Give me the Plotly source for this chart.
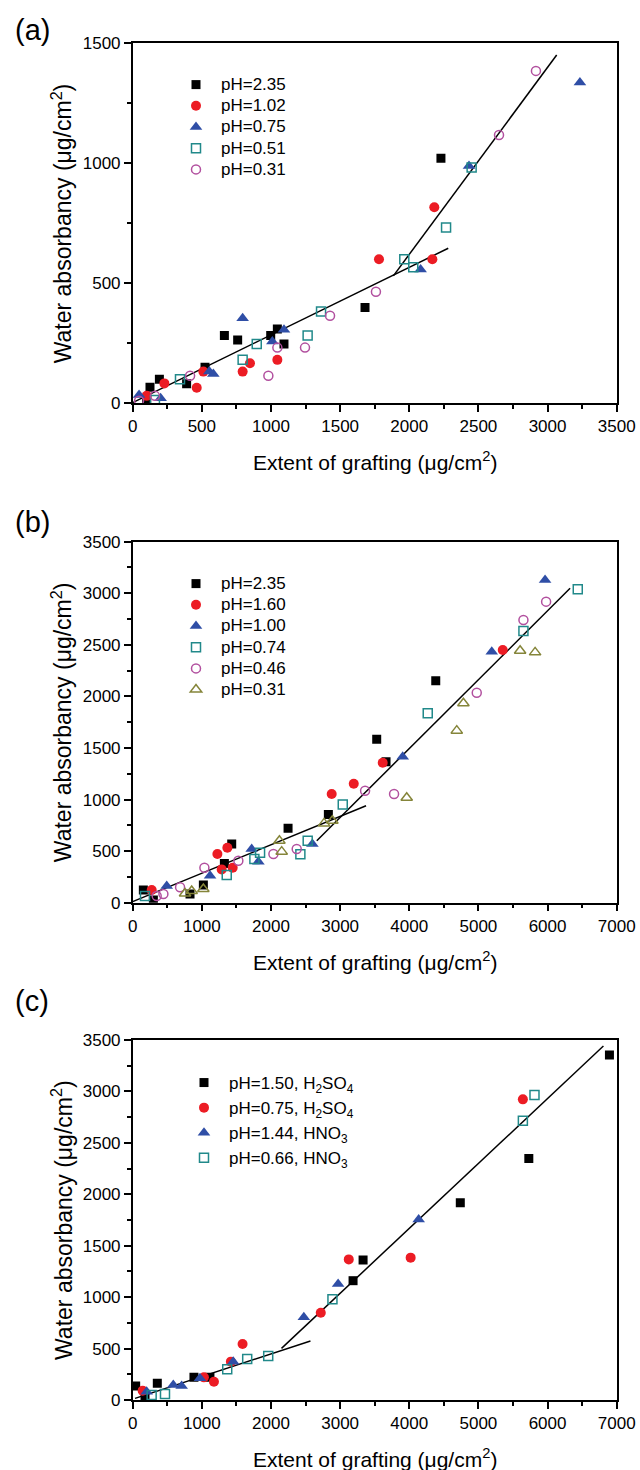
import plotly.graph_objects as go

# ---------------- Panel (a) data ----------------
a_names = ["pH=2.35", "pH=1.02", "pH=0.75", "pH=0.51", "pH=0.31"]
a_x_235 = [101, 125, 193, 390, 523, 663, 759, 998, 1046, 1094, 1680, 2229]
a_y_235 = [11, 67, 100, 81, 150, 282, 264, 282, 310, 247, 399, 1021]
a_x_102 = [101, 229, 463, 511, 795, 848, 1046, 1781, 2167, 2181]
a_y_102 = [31, 83, 65, 132, 132, 167, 181, 600, 600, 817]
a_x_075 = [46, 202, 554, 583, 795, 1010, 1094, 2082, 2432, 3234]
a_y_075 = [35, 21, 132, 122, 354, 257, 306, 558, 989, 1337]
a_x_051 = [161, 342, 795, 897, 1265, 1362, 1964, 2029, 2266, 2451]
a_y_051 = [14, 100, 181, 247, 282, 382, 600, 567, 732, 983]
a_x_031 = [46, 161, 415, 981, 1046, 1246, 1427, 1759, 2649, 2916]
a_y_031 = [11, 31, 115, 115, 232, 232, 365, 465, 1118, 1385]
a_fit1_x = [0, 2282]
a_fit1_y = [3, 646]
a_fit2_x = [1885, 3066]
a_fit2_y = [531, 1451]

# ---------------- Panel (b) data ----------------
b_names = ["pH=2.35", "pH=1.60", "pH=1.00", "pH=0.74", "pH=0.46", "pH=0.31"]
b_x_235 = [154, 299, 829, 1022, 1326, 1432, 2247, 2830, 3529, 3664, 4383]
b_y_235 = [123, 26, 84, 171, 381, 569, 721, 856, 1584, 1367, 2153]
b_x_160 = [275, 1225, 1287, 1369, 1446, 2878, 3197, 3616, 5352]
b_y_160 = [123, 472, 323, 533, 339, 1054, 1154, 1357, 2450]
b_x_100 = [492, 1119, 1721, 1818, 2599, 3905, 5193, 5964]
b_y_100 = [162, 262, 520, 398, 569, 1416, 2434, 3129]
b_x_074 = [178, 1360, 1760, 1842, 2425, 2531, 3038, 4267, 5651, 6437]
b_y_074 = [65, 268, 423, 485, 469, 601, 953, 1836, 2634, 3038]
b_x_046 = [347, 444, 685, 1037, 1528, 2035, 2372, 3361, 3780, 4976, 5651, 5979]
b_y_046 = [65, 84, 149, 339, 407, 472, 520, 1086, 1054, 2036, 2741, 2919]
b_x_031 = [757, 853, 1022, 2122, 2155, 2768, 2888, 3963, 4687, 4783, 5603, 5820]
b_y_031 = [90, 113, 133, 601, 495, 769, 795, 1018, 1668, 1933, 2443, 2427]
b_fit1_x = [0, 3375]
b_fit1_y = [10, 940]
b_fit2_x = [2662, 6326]
b_fit2_y = [601, 3048]

# ---------------- Panel (c) data ----------------
c_names = ["pH=1.50, H<sub>2</sub>SO<sub>4</sub>", "pH=0.75, H<sub>2</sub>SO<sub>4</sub>",
           "pH=1.44, HNO<sub>3</sub>", "pH=0.66, HNO<sub>3</sub>"]
c_x_150 = [43, 178, 356, 886, 1117, 3187, 3332, 4738, 5729, 6895]
c_y_150 = [136, 16, 162, 220, 220, 1160, 1361, 1918, 2349, 3354]
c_x_075 = [144, 1030, 1175, 1420, 1589, 2720, 3125, 4020, 5643]
c_y_075 = [91, 220, 178, 373, 544, 849, 1367, 1384, 2923]
c_x_144 = [202, 587, 708, 973, 1454, 2475, 2971, 4136]
c_y_144 = [81, 146, 136, 211, 373, 804, 1128, 1756]
c_x_066 = [274, 467, 1367, 1656, 1960, 2889, 5643, 5811]
c_y_066 = [49, 58, 298, 399, 428, 979, 2716, 2965]
c_fit1_x = [34, 2571]
c_fit1_y = [16, 574]
c_fit2_x = [2152, 6808]
c_fit2_y = [502, 3441]

# ---------------- Styles ----------------
FONT = "Liberation Sans, Arial, sans-serif"
BLACK = "#000000"
RED = "#ec1c24"
BLUE = "#2f4ea6"
TEAL = "#21898a"
MAGENTA = "#b2509f"
OLIVE = "#85853a"

sty_sq = dict(symbol="square", size=9, color=BLACK)
sty_ci = dict(symbol="circle", size=10, color=RED)
sty_tr = dict(symbol="triangle-up", size=11, color=BLUE)
sty_osq = dict(symbol="square-open", size=9, color=TEAL, line=dict(width=1.5, color=TEAL))
sty_oci = dict(symbol="circle-open", size=9, color=MAGENTA, line=dict(width=1.5, color=MAGENTA))
sty_otr = dict(symbol="triangle-up-open", size=10, color=OLIVE, line=dict(width=1.5, color=OLIVE))

fig = go.Figure()


def add_pts(x, y, name, marker, ax, leg, big=True):
    label = f'<span style="font-size:17px">{name}</span>' if big else name
    fig.add_trace(go.Scatter(x=x, y=y, mode="markers", name=label, marker=marker,
                             xaxis="x" + ax, yaxis="y" + ax, legend=leg, showlegend=True))


def add_line(x, y, ax):
    fig.add_trace(go.Scatter(x=x, y=y, mode="lines", line=dict(color="black", width=1.5),
                             xaxis="x" + ax, yaxis="y" + ax, showlegend=False, hoverinfo="skip"))

# panel a (axis suffix "")
add_line(a_fit1_x, a_fit1_y, "")
add_line(a_fit2_x, a_fit2_y, "")
add_pts(a_x_235, a_y_235, a_names[0], sty_sq, "", "legend")
add_pts(a_x_102, a_y_102, a_names[1], sty_ci, "", "legend")
add_pts(a_x_075, a_y_075, a_names[2], sty_tr, "", "legend")
add_pts(a_x_051, a_y_051, a_names[3], sty_osq, "", "legend")
add_pts(a_x_031, a_y_031, a_names[4], sty_oci, "", "legend")

# panel b
add_line(b_fit1_x, b_fit1_y, "2")
add_line(b_fit2_x, b_fit2_y, "2")
add_pts(b_x_235, b_y_235, b_names[0], sty_sq, "2", "legend2")
add_pts(b_x_160, b_y_160, b_names[1], sty_ci, "2", "legend2")
add_pts(b_x_100, b_y_100, b_names[2], sty_tr, "2", "legend2")
add_pts(b_x_074, b_y_074, b_names[3], sty_osq, "2", "legend2")
add_pts(b_x_046, b_y_046, b_names[4], sty_oci, "2", "legend2")
add_pts(b_x_031, b_y_031, b_names[5], sty_otr, "2", "legend2")

# panel c
add_line(c_fit1_x, c_fit1_y, "3")
add_line(c_fit2_x, c_fit2_y, "3")
add_pts(c_x_150, c_y_150, c_names[0], sty_sq, "3", "legend3", big=False)
add_pts(c_x_075, c_y_075, c_names[1], sty_ci, "3", "legend3", big=False)
add_pts(c_x_144, c_y_144, c_names[2], sty_tr, "3", "legend3", big=False)
add_pts(c_x_066, c_y_066, c_names[3], sty_osq, "3", "legend3", big=False)

W, H = 640, 1470
XL, XR = 132.7, 616.7
xdom = [XL / W, XR / W]
panels = {"": (43.3, 403.3), "2": (541.7, 902.7), "3": (1040.0, 1400.0)}


def ydom(top, bot):
    return [(H - bot) / H, (H - top) / H]


def axis(dom, rng, dtick, minor_dtick, anchor):
    return dict(domain=dom, range=rng, tickmode="linear", tick0=0, dtick=dtick,
                showline=True, linecolor="black", linewidth=1.5, mirror=True,
                ticks="outside", ticklen=7, tickwidth=1.5, tickcolor="black",
                minor=dict(ticks="outside", ticklen=4, tickwidth=1.5, tickcolor="black",
                           dtick=minor_dtick, tick0=0, showgrid=False),
                showgrid=False, zeroline=False, anchor=anchor, automargin=False,
                tickfont=dict(family=FONT, size=17, color="black"))


layout = dict(
    template="none",
    width=W, height=H, margin=dict(l=0, r=0, t=0, b=0, pad=0, autoexpand=False),
    paper_bgcolor="white", plot_bgcolor="white",
    font=dict(family=FONT, color="black"),
    showlegend=True,
)
layout["xaxis"] = axis(xdom, [0, 3500], 500, 250, "y")
layout["yaxis"] = axis(ydom(*panels[""]), [0, 1500], 500, 250, "x")
layout["xaxis2"] = axis(xdom, [0, 7000], 1000, 500, "y2")
layout["yaxis2"] = axis(ydom(*panels["2"]), [0, 3500], 500, 250, "x2")
layout["xaxis3"] = axis(xdom, [0, 7000], 1000, 500, "y3")
layout["yaxis3"] = axis(ydom(*panels["3"]), [0, 3500], 500, 250, "x3")


def leg(left_px, top_px, size):
    return dict(x=left_px / W, y=(H - top_px) / H, xanchor="left", yanchor="top",
                bgcolor="rgba(0,0,0,0)", borderwidth=0, itemwidth=40,
                font=dict(family=FONT, size=size, color="black"),
                tracegroupgap=0)

layout["legend"] = leg(171, 69, 14)
layout["legend2"] = leg(171, 568, 14)
layout["legend3"] = leg(179, 1065, 17)

ann = []
# panel letters
for txt, yc in [("(a)", 30), ("(b)", 522), ("(c)", 1001)]:
    ann.append(dict(text=txt, x=32 / W, y=(H - yc) / H, xref="paper", yref="paper",
                    xanchor="center", yanchor="middle", showarrow=False,
                    font=dict(family=FONT, size=29, color="black")))
ytitle = "Water absorbancy (\u03bcg/cm<sup>2</sup>)"
xtitle = "Extent of grafting (\u03bcg/cm<sup>2</sup>)"
for key, (top, bot) in panels.items():
    ann.append(dict(text=ytitle, x=62 / W, y=(H - (top + bot) / 2) / H, xref="paper", yref="paper",
                    xanchor="center", yanchor="middle", textangle=-90, showarrow=False,
                    font=dict(family=FONT, size=23, color="black")))
    ann.append(dict(text=xtitle, x=(XL + XR) / 2 / W, y=(H - (bot + 58)) / H, xref="paper", yref="paper",
                    xanchor="center", yanchor="middle", showarrow=False,
                    font=dict(family=FONT, size=21, color="black")))
layout["annotations"] = ann

fig.update_layout(layout)
fig.write_html("out.html")
